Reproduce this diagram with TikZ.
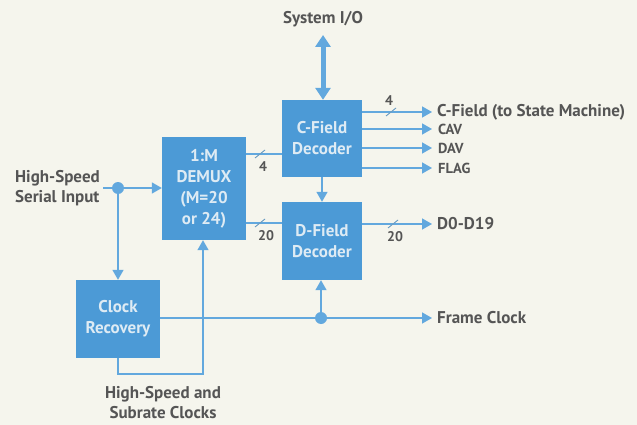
\documentclass[tikz,border=0pt]{standalone}
\usepackage{fontspec}
\setmainfont{PT Sans}
\usetikzlibrary{arrows.meta}
\definecolor{bg}{RGB}{245,245,237}
\definecolor{boxblue}{RGB}{76,154,214}
\definecolor{lineblue}{RGB}{98,168,222}
\definecolor{txt}{RGB}{85,85,85}
\definecolor{boxtxt}{RGB}{222,235,244}
\begin{document}
\begin{tikzpicture}[x=1pt,y=-1pt,
  blk/.style={fill=boxblue,draw=none,text=boxtxt,font=\bfseries\fontsize{17}{21}\selectfont,align=center,inner sep=0pt},
  lbl/.style={text=txt,font=\bfseries\fontsize{17}{20}\selectfont,align=center,inner sep=0pt},
  sml/.style={text=txt,font=\bfseries\fontsize{14.5}{16}\selectfont,inner sep=0pt},
  num/.style={text=txt,font=\bfseries\fontsize{14}{15}\selectfont,inner sep=0pt},
  ln/.style={draw=lineblue,line width=1.4pt},
  arr/.style={ln,-{Triangle[length=10pt,width=11pt]}},
  dotc/.style={circle,fill=lineblue,minimum size=12pt,inner sep=0pt},
  slash/.style={draw=lineblue!70!gray,line width=0.9pt}]
\fill[bg] (0,0) rectangle (637,425);
\useasboundingbox (0,0) rectangle (637,425);

% blocks
\node[blk,minimum width=84pt,minimum height=103pt] (demux) at (204,188.5) {1:M\\DEMUX\\(M=20\\or 24)};
\node[blk,minimum width=80pt,minimum height=77pt] (cf) at (322,138.5) {C-Field\\Decoder};
\node[blk,minimum width=80pt,minimum height=78pt] (df) at (322,241) {D-Field\\Decoder};
\node[blk,minimum width=84pt,minimum height=78pt] (cr) at (118,319) {Clock\\Recovery};

% labels
\node[lbl] (sysio) at (323,19) {System I/O};
\node[lbl,align=left,anchor=east] (inp) at (100,188) {High-Speed\\Serial Input};
\node[lbl] (clk) at (163,403) {High-Speed and\\Subrate Clocks};
\node[lbl,anchor=west] (cfo) at (437,112) {C-Field (to State Machine)};
\node[sml,anchor=west] (cav) at (438,129) {CAV};
\node[sml,anchor=west] (dav) at (438,148) {DAV};
\node[sml,anchor=west] (flag) at (438,168) {FLAG};
\node[lbl,anchor=west] (dout) at (437,224) {D0-D19};
\node[lbl,anchor=west] (fclk) at (437,318) {Frame Clock};

% dots
\node[dotc] (d1) at (118,188) {};
\node[dotc] (d2) at (321,318) {};

% system I/O double arrow
\coordinate (ioTop) at (323,35);
\draw[draw=lineblue,line width=5pt,{Triangle[length=12pt,width=15pt]}-{Triangle[length=12pt,width=15pt]}] (ioTop) -- (cf.north -| ioTop);

% input
\draw[ln] (inp.east |- d1) ++(3,0) -- (d1);
\draw[arr] (d1) -- (demux.west |- d1);
\draw[arr] (d1) -- (cr.north);

% demux to decoders
\coordinate (m4) at (246,154);
\coordinate (m20) at (246,223);
\draw[ln] (m4) -- (cf.west |- m4);
\draw[ln] (m20) -- (df.west |- m20);
\draw[slash] (255,158) -- (265,150);
\draw[slash] (255,227) -- (265,219);
\node[num] (n4a) at (263,167) {4};
\node[num] (n20a) at (266,236) {20};

% cf to df
\draw[arr] (cf.south) -- (df.north);

% cf outputs
\coordinate (o1) at (432,112);
\coordinate (o2) at (432,129);
\coordinate (o3) at (432,148);
\coordinate (o4) at (432,168);
\draw[arr] (cf.east |- o1) -- (o1);
\draw[arr] (cf.east |- o2) -- (o2);
\draw[arr] (cf.east |- o3) -- (o3);
\draw[arr] (cf.east |- o4) -- (o4);
\draw[slash] (386,116) -- (396,108);
\node[num] (n4b) at (389,101) {4};

% df output
\coordinate (o5) at (432,224);
\draw[arr] (df.east |- o5) -- (o5);
\draw[slash] (388,228) -- (398,220);
\node[num] (n20b) at (395,237) {20};

% frame clock
\coordinate (o6) at (432,318);
\draw[ln] (cr.east |- d2) -- (d2);
\draw[arr] (d2) -- (o6);
\draw[arr] (d2) -- (df.south -| d2);

% subrate clocks loop
\coordinate (lp1) at (118,374);
\coordinate (lp2) at (203,374);
\draw[arr] (cr.south) -- (lp1) -- (lp2) -- (demux.south -| lp2);
\end{tikzpicture}
\end{document}
